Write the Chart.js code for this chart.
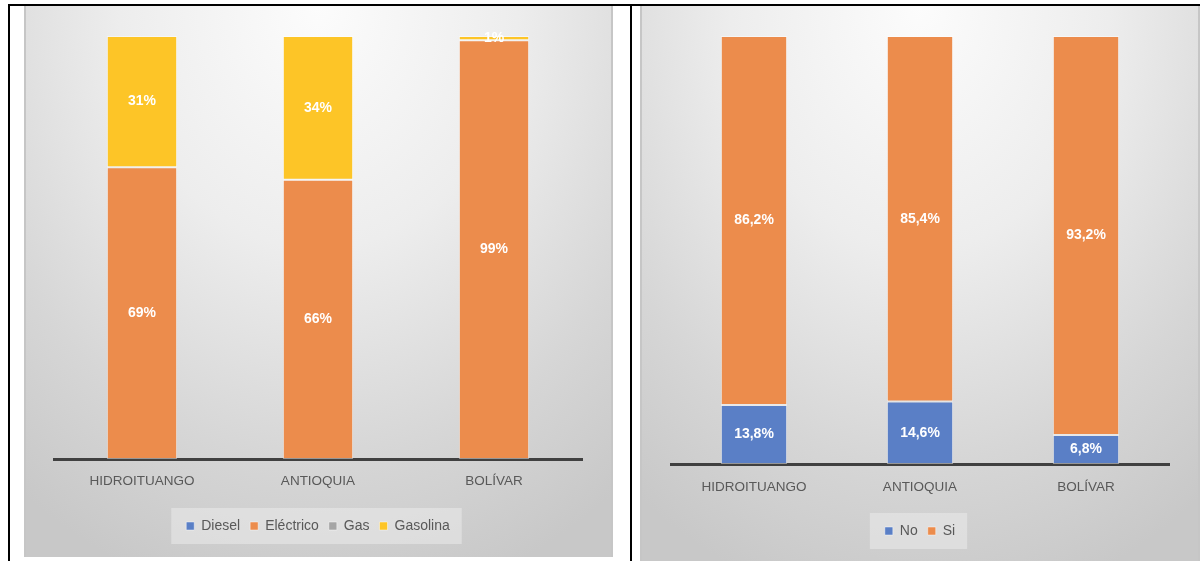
<!DOCTYPE html>
<html>
<head>
<meta charset="utf-8">
<script src="https://cdn.jsdelivr.net/npm/chart.js@4.4.1/dist/chart.umd.min.js"></script>
<style>
  html, body { margin: 0; padding: 0; background: #fff; }
  body { width: 1204px; height: 561px; position: relative; overflow: hidden; }
  .line { position: absolute; background: #000; }
  .panel {
    position: absolute;
    background: radial-gradient(ellipse 85% 110% at 50% 0%, #fcfcfc 0%, #ededed 40%, #d6d6d6 75%, #c8c8c8 100%);
    border-left: 2px solid #c6c6c6;
    border-right: 2px solid #c6c6c6;
    box-sizing: border-box;
  }
  .panel canvas { position: absolute; left: 0; top: 0; }
</style>
</head>
<body>
<div class="line" style="left:8px;top:4px;width:1192px;height:2px"></div>
<div class="line" style="left:8px;top:4px;width:2px;height:557px"></div>
<div class="line" style="left:630px;top:4px;width:2px;height:557px"></div>

<div class="panel" style="left:24px;top:6px;width:589px;height:551px">
  <div style="position:absolute;left:0;top:0;width:585px;height:551px"><canvas id="chartLeft"></canvas></div>
</div>
<div class="panel" style="left:640px;top:6px;width:560px;height:555px">
  <div style="position:absolute;left:0;top:0;width:556px;height:555px"><canvas id="chartRight"></canvas></div>
</div>

<script>
// data
const categories = ['HIDROITUANGO', 'ANTIOQUIA', 'BOLÍVAR'];
const diesel = [0, 0, 0];
const electrico = [69, 66, 99];
const gas = [0, 0, 0];
const gasolina = [31, 34, 1];
const noValues = [13.8, 14.6, 6.8];
const siValues = [86.2, 85.4, 93.2];

const BLUE = '#5A7FC6', ORANGE = '#EC8C4C', GRAY = '#A5A5A5', YELLOW = '#FDC527';

Chart.defaults.font.family = '"Liberation Sans", Arial, sans-serif';
Chart.defaults.color = '#595959';

// white labels in the middle of each segment
const segmentLabels = {
  id: 'segmentLabels',
  afterDatasetsDraw(chart, args, opts) {
    const ctx = chart.ctx;
    ctx.save();
    ctx.font = 'bold 14px "Liberation Sans", Arial, sans-serif';
    ctx.fillStyle = '#fff';
    ctx.textAlign = 'center';
    ctx.textBaseline = 'middle';
    chart.data.datasets.forEach((ds, i) => {
      chart.getDatasetMeta(i).data.forEach((bar, j) => {
        const v = ds.data[j];
        if (!v) return;
        ctx.fillText(opts.format(v), bar.x, (bar.y + bar.base) / 2);
      });
    });
    ctx.restore();
  }
};

// light box behind the legend
const legendBox = {
  id: 'legendBox',
  beforeDraw(chart) {
    const boxes = chart.legend && chart.legend.legendHitBoxes;
    if (!boxes || !boxes.length) return;
    const left = Math.min(...boxes.map(b => b.left)) - 15;
    const right = Math.max(...boxes.map(b => b.left + b.width)) + 12;
    const cy = boxes[0].top + boxes[0].height / 2;
    const ctx = chart.ctx;
    ctx.save();
    ctx.fillStyle = 'rgba(238,238,238,0.5)';
    ctx.fillRect(left, cy - 18, right - left, 36);
    ctx.restore();
  }
};

function makeChart(id, datasets, format, pad, tickPad) {
  return new Chart(document.getElementById(id), {
    type: 'bar',
    data: { labels: categories, datasets: datasets },
    plugins: [legendBox, segmentLabels],
    options: {
      responsive: true,
      maintainAspectRatio: false,
      animation: false,
      devicePixelRatio: 1,
      layout: { padding: pad },
      datasets: {
        bar: {
          categoryPercentage: 1,
          barPercentage: 0.4,
          borderWidth: 1,
          borderColor: 'rgba(255,255,255,0.45)',
          borderSkipped: false
        }
      },
      scales: {
        x: {
          stacked: true,
          grid: { display: false, drawTicks: false },
          border: { display: true, color: '#404040', width: 3 },
          ticks: { padding: tickPad, color: '#595959', font: { size: 13.5 } },
          afterFit(scale) { scale.height = 50; }
        },
        y: { stacked: true, display: false, min: 0, max: 100 }
      },
      plugins: {
        legend: {
          position: 'bottom',
          labels: {
            boxWidth: 8, boxHeight: 8, padding: 10,
            color: '#595959', font: { size: 14 }
          }
        },
        tooltip: { enabled: false },
        segmentLabels: { format: format }
      }
    }
  });
}

makeChart('chartLeft', [
  { label: 'Diesel', data: diesel, backgroundColor: BLUE },
  { label: 'Eléctrico', data: electrico, backgroundColor: ORANGE },
  { label: 'Gas', data: gas, backgroundColor: GRAY },
  { label: 'Gasolina', data: gasolina, backgroundColor: YELLOW }
], v => v + '%', { left: 28, right: 29, top: 30, bottom: 14 }, 14);

makeChart('chartRight', [
  { label: 'No', data: noValues, backgroundColor: BLUE },
  { label: 'Si', data: siValues, backgroundColor: ORANGE }
], v => v.toFixed(1).replace('.', ',') + '%', { left: 29, right: 29, top: 30, bottom: 13 }, 15);
</script>
</body>
</html>
